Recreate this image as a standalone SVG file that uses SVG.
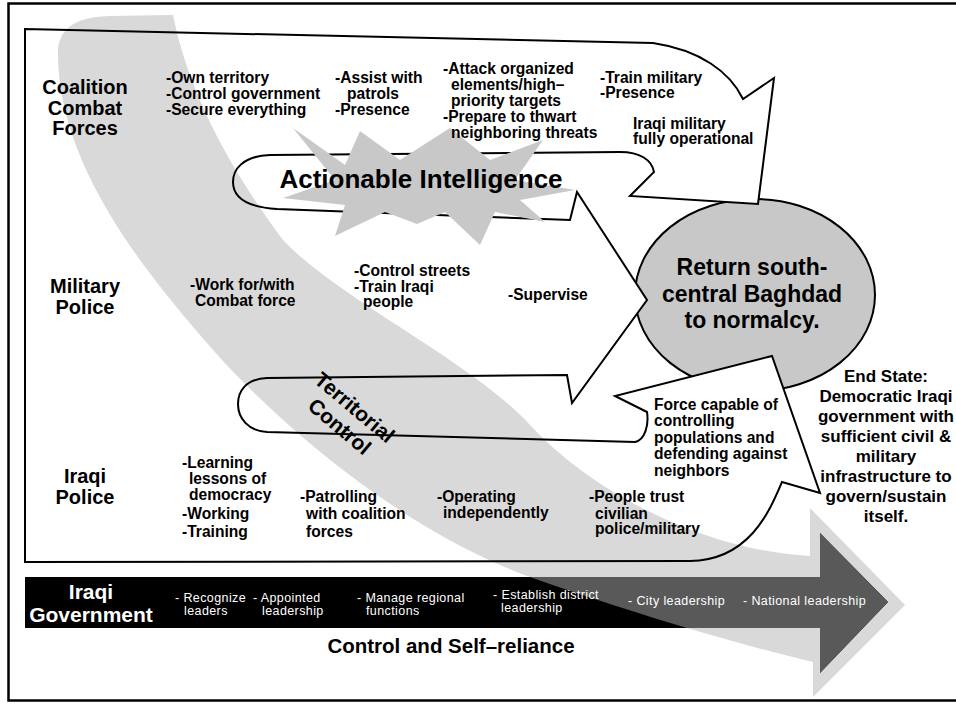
<svg xmlns="http://www.w3.org/2000/svg" width="956" height="704" viewBox="0 0 956 704">
<style>
text{font-family:"Liberation Sans",Arial,sans-serif;font-weight:bold;fill:#000}
.lbl{font-size:20px;text-anchor:middle}
.t{font-size:15.6px}
.es{font-size:17px;text-anchor:middle}
.goal{font-size:23px;text-anchor:middle}
.bar{font-size:12.5px;font-weight:normal;fill:#fff;letter-spacing:0.4px}
.gov{font-size:21px;text-anchor:middle;fill:#fff}
.outline{fill:none;stroke:#000;stroke-width:2;stroke-linejoin:miter}
</style>
<defs>
<path id="band" d="M173,15 C190,100 235,175 283,240 C340,300 470,360 530,425 C590,490 700,550 810,556 L810,508 L905,605 L813,697 L813,662 C720,640 600,602 530,577 C400,530 270,418 200,335 C140,265 56,160 58,50 C60,25 80,17 110,16 Z"/>
<path id="bar" d="M25,577 L820,577 L820,533 L888,602 L820,673 L820,628 L25,628 Z"/>
<path id="flow" d="M25,29 L653,43 C700,50 730,72 743,99 L774,78 L758,204 L630,196 L654,172 C652,160 640,152 620,152 L270,155 C242,156 233,170 233,182 C233,196 245,207 277,209 L570,220 L577,192 L647,300 L572,403 L567,375 L267,378 C245,379 238,392 238,404 C238,418 248,431 267,432 L635,442 C645,440 649,425 647,412 L615,396 L772,356 L820,493 L782,482 C770,510 750,560 690,561 L25,562 Z"/>
<clipPath id="bandClip"><use href="#band"/></clipPath>
</defs>
<rect width="956" height="704" fill="#fff"/>
<rect x="8.5" y="3.5" width="952" height="697" fill="none" stroke="#000" stroke-width="2.5"/>

<g id="goal">
<ellipse cx="755" cy="295" rx="120" ry="96" fill="#c8c8c8" stroke="#000" stroke-width="2"/>
</g>

<use href="#flow" fill="#fff"/>
<use href="#band" fill="#d9d9d9"/>

<g id="gov-arrow">
<use href="#bar" fill="#000"/>
<use href="#bar" fill="#595959" clip-path="url(#bandClip)"/>
</g>

<g id="connectors">
<use href="#flow" class="outline"/>
</g>

<g id="intel">
<polygon fill="#c8c8c8" points="293,128 345,165 360,131 400,160 450,128 490,160 543,140 515,180 575,190 520,200 545,222 495,212 480,245 445,212 417,224 385,212 335,236 345,205 283,198 335,180"/>
<text x="421" y="188" style="font-size:26px;text-anchor:middle">Actionable Intelligence</text>
</g>

<g id="territorial">
<text class="lbl" transform="translate(350,413) rotate(40)" style="font-size:21px">Territorial</text>
<text class="lbl" transform="translate(335,432) rotate(40)" style="font-size:21px">Control</text>
</g>

<g id="row-coalition">
<text class="lbl" x="85" y="94">Coalition</text>
<text class="lbl" x="85" y="114.5">Combat</text>
<text class="lbl" x="85" y="135">Forces</text>
<text class="t" x="166" y="83">-Own territory</text>
<text class="t" x="166" y="99">-Control government</text>
<text class="t" x="166" y="114.5">-Secure everything</text>
<text class="t" x="335" y="83">-Assist with</text>
<text class="t" x="347" y="99">patrols</text>
<text class="t" x="335" y="114.5">-Presence</text>
<text class="t" x="443" y="74">-Attack organized</text>
<text class="t" x="451" y="90">elements/high–</text>
<text class="t" x="451" y="105.5">priority targets</text>
<text class="t" x="443" y="122">-Prepare to thwart</text>
<text class="t" x="451" y="138">neighboring threats</text>
<text class="t" x="600" y="82.5">-Train military</text>
<text class="t" x="600" y="98">-Presence</text>
<text class="t" x="633" y="128.5">Iraqi military</text>
<text class="t" x="633" y="144">fully operational</text>
</g>

<g id="row-mp">
<text class="lbl" x="85" y="293">Military</text>
<text class="lbl" x="85" y="314">Police</text>
<text class="t" x="190" y="290">-Work for/with</text>
<text class="t" x="195" y="306">Combat force</text>
<text class="t" x="354" y="276">-Control streets</text>
<text class="t" x="354" y="291.5">-Train Iraqi</text>
<text class="t" x="363" y="307">people</text>
<text class="t" x="508" y="300">-Supervise</text>
</g>

<g id="row-ip">
<text class="lbl" x="85" y="483">Iraqi</text>
<text class="lbl" x="85" y="504">Police</text>
<text class="t" x="182" y="468">-Learning</text>
<text class="t" x="189" y="484">lessons of</text>
<text class="t" x="189" y="500">democracy</text>
<text class="t" x="182" y="519">-Working</text>
<text class="t" x="182" y="537">-Training</text>
<text class="t" x="300" y="502">-Patrolling</text>
<text class="t" x="306" y="519">with coalition</text>
<text class="t" x="306" y="537">forces</text>
<text class="t" x="437" y="502">-Operating</text>
<text class="t" x="443" y="518">independently</text>
<text class="t" x="589" y="502">-People trust</text>
<text class="t" x="595" y="518.5">civilian</text>
<text class="t" x="595" y="534">police/military</text>
<text class="t" x="654" y="409.5">Force capable of</text>
<text class="t" x="654" y="426">controlling</text>
<text class="t" x="654" y="442.5">populations and</text>
<text class="t" x="654" y="459">defending against</text>
<text class="t" x="654" y="475.5">neighbors</text>
</g>

<g id="goal-text">
<text class="goal" x="752" y="275">Return south-</text>
<text class="goal" x="752" y="302">central Baghdad</text>
<text class="goal" x="752" y="328">to normalcy.</text>
</g>

<g id="end-state">
<text class="es" x="886" y="382">End State:</text>
<text class="es" x="886" y="402">Democratic Iraqi</text>
<text class="es" x="886" y="422">government with</text>
<text class="es" x="886" y="442">sufficient civil &amp;</text>
<text class="es" x="886" y="462">military</text>
<text class="es" x="886" y="482">infrastructure to</text>
<text class="es" x="886" y="502">govern/sustain</text>
<text class="es" x="886" y="522">itself.</text>
</g>

<g id="gov-text">
<text class="gov" x="91" y="599">Iraqi</text>
<text class="gov" x="91" y="622">Government</text>
<text class="bar" x="175" y="602">- Recognize</text>
<text class="bar" x="184" y="614.5">leaders</text>
<text class="bar" x="253" y="602">- Appointed</text>
<text class="bar" x="262" y="614.5">leadership</text>
<text class="bar" x="357" y="602">- Manage regional</text>
<text class="bar" x="366" y="614.5">functions</text>
<text class="bar" x="493" y="599">- Establish district</text>
<text class="bar" x="501" y="611.5">leadership</text>
<text class="bar" x="628" y="605">- City leadership</text>
<text class="bar" x="743" y="605">- National leadership</text>
</g>

<g id="caption">
<text x="451" y="653" style="font-size:20.5px;text-anchor:middle">Control and Self–reliance</text>
</g>
</svg>
